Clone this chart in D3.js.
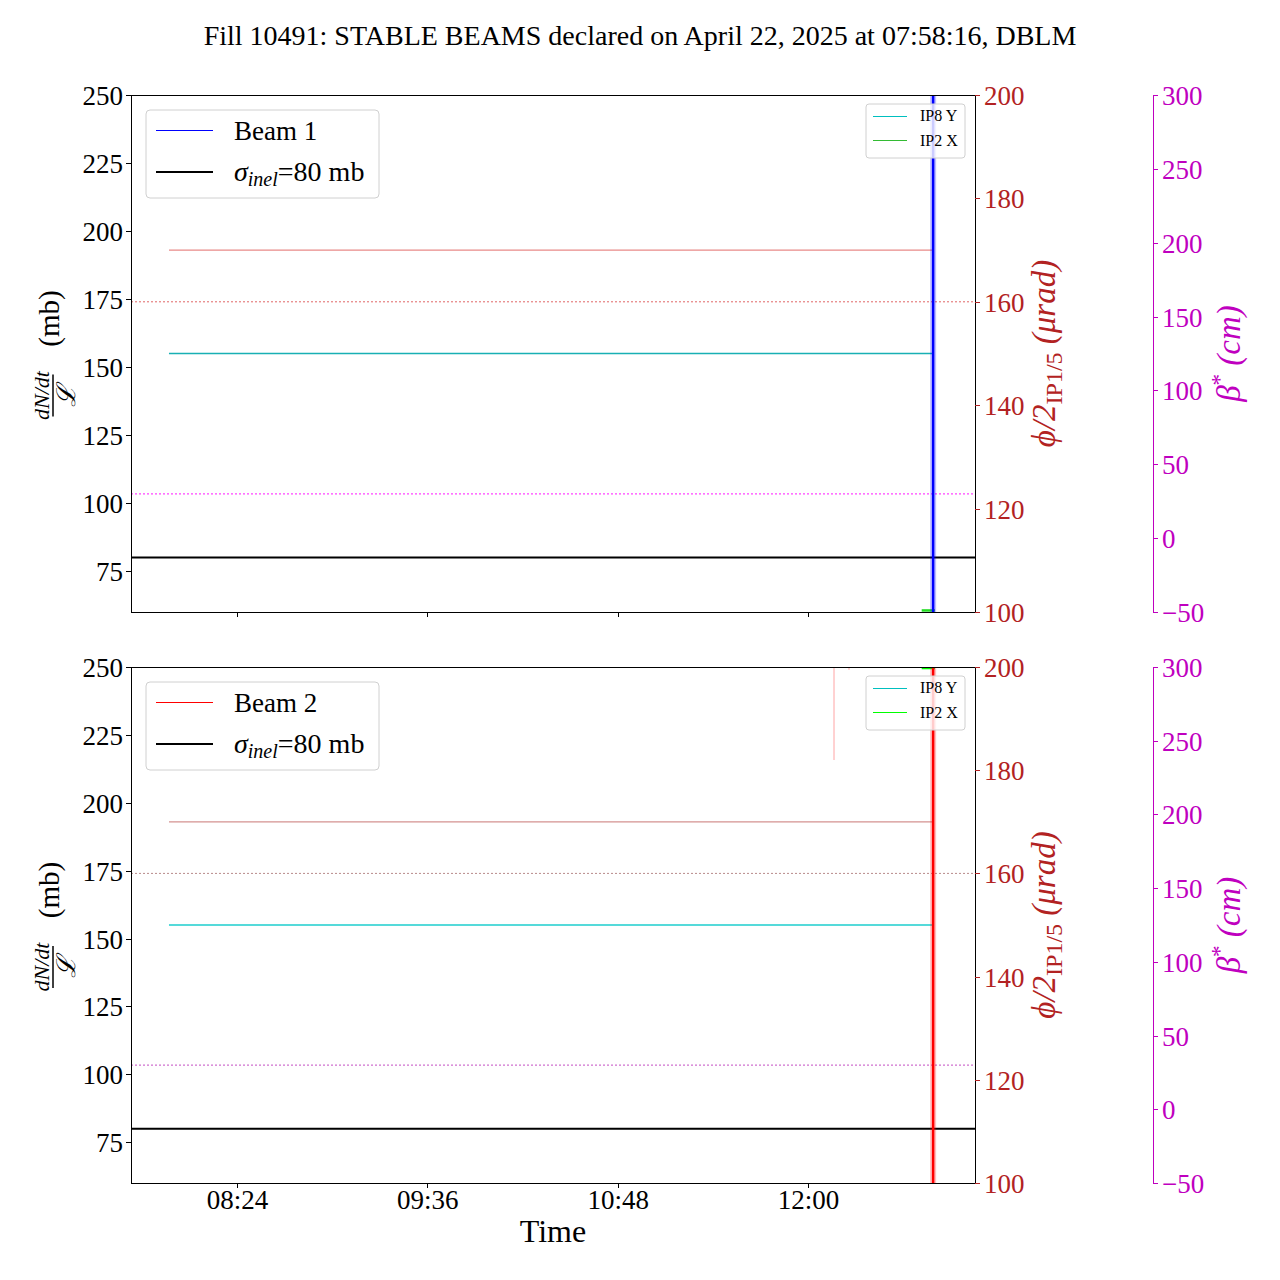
<!DOCTYPE html>
<html><head><meta charset="utf-8">
<script src="https://cdn.jsdelivr.net/npm/d3@7"></script>
<style>body{margin:0;background:#fff}svg{display:block}text{font-family:"Liberation Serif","DejaVu Serif",serif}.tick line{shape-rendering:crispEdges}</style>
</head><body>
<script>
// ---- data ----
const fillTitle = "Fill 10491: STABLE BEAMS declared on April 22, 2025 at 07:58:16, DBLM";
const day = "2025-04-22";
const xDomain = ["07:43:54", "13:03:10"];
const xTicks = ["08:24", "09:36", "10:48", "12:00"];
const leftTicks = [75, 100, 125, 150, 175, 200, 225, 250];
const redTicks = [100, 120, 140, 160, 180, 200];
const magTicks = [-50, 0, 50, 100, 150, 200, 250, 300];
const lineTimes = ["07:58:16", "12:47:20"];
const crossingIP15 = [170, 170];      // µrad, half crossing angle IP1/5
const crossingIP8Y = [150, 150];      // µrad
const refCrossing = 160;              // µrad reference (dotted)
const betaStarRef = 30;               // cm (dotted)
const sigmaInel = 80;                 // mb
const beam1Times = ["12:47:20", "12:47:20"];
const beam1Vals = [20, 400];          // mb, off-scale spike
const beam2Times = ["12:47:20", "12:47:20"];
const beam2Vals = [20, 400];
const beam2EarlyTimes = ["12:09:50", "12:09:50"];
const beam2EarlyVals = [400, 215.8];
const beam2BlipTimes = ["12:15:30", "12:15:30"];
const beam2BlipVals = [400, 249];
const ip2xTimes = ["12:43:00", "12:48:00"];
const ip2xTop = [100.3, 100.3];
const ip2xBottom = [199.8, 199.8];

const W = 1280, H = 1280;
const svg = d3.select("body").append("svg").attr("width", W).attr("height", H);
const parse = s => d3.timeParse("%Y-%m-%d %H:%M:%S")(day + " " + (s.length === 5 ? s + ":00" : s));
const x = d3.scaleTime().domain(xDomain.map(parse)).range([131, 975]);
const FS = 27;

svg.append("text").attr("x", 640).attr("y", 45).attr("text-anchor", "middle").attr("font-size", 28).text(fillTitle);

const RED = "#b22222", MAG = "#bf00bf";

const panels = [
  {y0: 95, y1: 612, beam: "Beam 1", beamColor: "#0000ff", spikeT: beam1Times, spikeV: beam1Vals,
   c170: "#e88a88", c160: "#e06666", cIP8: "#18b0b4", cMag: "#ff44ff", ip2: ip2xTop, ip2c: "#22dd22", legIP2: "#33bb33", last: false},
  {y0: 667, y1: 1183, beam: "Beam 2", beamColor: "#ff0000", spikeT: beam2Times, spikeV: beam2Vals,
   c170: "#d49290", c160: "#b88a8a", cIP8: "#55dada", cMag: "#d070d0", ip2: ip2xBottom, ip2c: "#00ff00", legIP2: "#00ff00", last: true}
];

panels.forEach((p, i) => {
  const yL = d3.scaleLinear().domain([60, 250]).range([p.y1, p.y0]);
  const yR = d3.scaleLinear().domain([100, 200]).range([p.y1, p.y0]);
  const yM = d3.scaleLinear().domain([-50, 300]).range([p.y1, p.y0]);
  const clipId = "clip" + i;
  svg.append("clipPath").attr("id", clipId).append("rect")
    .attr("x", 131).attr("y", p.y0).attr("width", 975 - 131).attr("height", p.y1 - p.y0);
  const g = svg.append("g").attr("clip-path", `url(#${clipId})`);
  const line = (ts, vs, sc) => d3.line().x((d, k) => x(parse(ts[k]))).y(d => sc(d))(vs);

  // reference dotted lines (full width)
  g.append("line").attr("x1", 131).attr("x2", 975).attr("y1", yR(refCrossing)).attr("y2", yR(refCrossing))
    .attr("stroke", p.c160).attr("stroke-width", 1).attr("stroke-dasharray", "2,2");
  g.append("line").attr("x1", 131).attr("x2", 975).attr("y1", yM(betaStarRef)).attr("y2", yM(betaStarRef))
    .attr("stroke", p.cMag).attr("stroke-width", 1.3).attr("stroke-dasharray", "2,2");
  // crossing angle lines
  g.append("path").attr("d", line(lineTimes, crossingIP15, yR)).attr("stroke", p.c170).attr("stroke-width", 1.3).attr("fill", "none");
  g.append("path").attr("d", line(lineTimes, crossingIP8Y, yR)).attr("stroke", p.cIP8).attr("stroke-width", p.last ? 1.8 : 1.5).attr("fill", "none");
  // sigma inel
  g.append("path").attr("d", line(lineTimes.map((t, k) => k ? xDomain[1] : xDomain[0]), [sigmaInel, sigmaInel], yL))
    .attr("stroke", "#000").attr("stroke-width", 2).attr("fill", "none");
  // early spikes bottom
  if (p.last) {
    g.append("path").attr("d", line(beam2EarlyTimes, beam2EarlyVals, yL)).attr("stroke", "#ff0000").attr("stroke-opacity", 0.3).attr("stroke-width", 1.2).attr("fill", "none");
    g.append("path").attr("d", line(beam2BlipTimes, beam2BlipVals, yL)).attr("stroke", "#ff0000").attr("stroke-opacity", 0.3).attr("stroke-width", 1.2).attr("fill", "none");
  }
  // IP2 X green
  g.append("path").attr("d", line(ip2xTimes, p.ip2, yR)).attr("stroke", p.ip2c).attr("stroke-width", 2.5).attr("fill", "none");
  // beam spike
  g.append("path").attr("d", line(p.spikeT, p.spikeV, yL)).attr("stroke", p.beamColor).attr("stroke-opacity", 0.25).attr("stroke-width", 6).attr("fill", "none");
  g.append("path").attr("d", line(p.spikeT, p.spikeV, yL)).attr("stroke", p.beamColor).attr("stroke-width", 2.5).attr("fill", "none");

  // frame
  svg.append("rect").attr("x", 131.5).attr("y", p.y0 + 0.5).attr("width", 975 - 131).attr("height", p.y1 - p.y0)
    .attr("fill", "none").attr("stroke", "#000").attr("stroke-width", 1).attr("shape-rendering", "crispEdges");

  // left axis
  const la = svg.append("g").attr("transform", "translate(131,0)")
    .call(d3.axisLeft(yL).tickValues(leftTicks).tickSize(5).tickPadding(3));
  la.select(".domain").remove();
  la.selectAll("text").attr("font-size", FS).attr("font-family", "Liberation Serif").attr("dy", "0.35em");
  // right red axis
  const ra = svg.append("g").attr("transform", "translate(975,0)")
    .call(d3.axisRight(yR).tickValues(redTicks).tickSize(5).tickPadding(4));
  ra.select(".domain").remove();
  ra.selectAll("line").attr("stroke", RED);
  ra.selectAll("text").attr("fill", RED).attr("font-size", FS).attr("font-family", "Liberation Serif").attr("dy", "0.35em");
  // magenta axis
  const ma = svg.append("g").attr("transform", "translate(1153,0)")
    .call(d3.axisRight(yM).tickValues(magTicks).tickSize(5).tickPadding(4).tickFormat(d => d < 0 ? "\u2212" + Math.abs(d) : d));
  ma.select(".domain").attr("stroke", MAG).attr("d", `M0.5,${p.y0}V${p.y1}`);
  ma.selectAll("line").attr("stroke", MAG);
  ma.selectAll("text").attr("fill", MAG).attr("font-size", FS).attr("font-family", "Liberation Serif").attr("dy", "0.35em");
  // x axis
  const xa = svg.append("g").attr("transform", `translate(0,${p.y1})`)
    .call(d3.axisBottom(x).tickValues(xTicks.map(parse)).tickSize(5).tickPadding(3).tickFormat(d3.timeFormat("%H:%M")));
  xa.select(".domain").remove();
  xa.selectAll("text").attr("font-size", FS).attr("font-family", "Liberation Serif").attr("dy", "0.65em");
  if (!p.last) xa.selectAll("text").remove();

  const cy = (p.y0 + p.y1) / 2;
  // left y label
  const gl = svg.append("g").attr("transform", `translate(52,${cy}) rotate(-90)`);
  gl.append("text").attr("x", 35).attr("y", 7).attr("text-anchor", "middle").attr("font-size", 29).text("(mb)");
  gl.append("text").attr("x", -42).attr("y", -3).attr("text-anchor", "middle").attr("font-size", 22).attr("font-style", "italic").text("dN/dt");
  gl.append("line").attr("x1", -63).attr("x2", -21).attr("y1", 1).attr("y2", 1).attr("stroke", "#000").attr("stroke-width", 1.5);
  gl.append("text").attr("x", -42).attr("y", 23).attr("text-anchor", "middle").attr("font-size", 26).attr("font-style", "italic").text("\u2112");
  // red label
  const gr = svg.append("g").attr("transform", `translate(1055,${cy}) rotate(-90)`);
  const tr = gr.append("text").attr("text-anchor", "middle").attr("font-size", 33).attr("fill", RED).attr("font-style", "italic");
  tr.append("tspan").text("\u03d5/2");
  tr.append("tspan").attr("font-style", "normal").attr("font-size", 24).attr("dy", 7).text("IP1/5");
  tr.append("tspan").attr("dy", -7).text(" (\u03bcrad)");
  // magenta label
  const gm = svg.append("g").attr("transform", `translate(1240,${cy}) rotate(-90)`);
  const tm = gm.append("text").attr("text-anchor", "middle").attr("font-size", 33).attr("fill", MAG).attr("font-style", "italic");
  tm.append("tspan").text("\u03b2");
  tm.append("tspan").attr("font-size", 23).attr("dy", -13).attr("font-style", "normal").text("*");
  tm.append("tspan").attr("dy", 13).text(" (cm)");

  // big legend
  const ly = p.y0;
  svg.append("rect").attr("x", 146).attr("y", ly + 15).attr("width", 233).attr("height", 88).attr("rx", 4)
    .attr("fill", "#fff").attr("fill-opacity", 0.8).attr("stroke", "#d0d0d0");
  svg.append("line").attr("x1", 156).attr("x2", 213).attr("y1", ly + 35.5).attr("y2", ly + 35.5).attr("stroke", p.beamColor).attr("stroke-width", 1);
  svg.append("text").attr("x", 234).attr("y", ly + 45).attr("font-size", 27).text(p.beam);
  svg.append("line").attr("x1", 156).attr("x2", 213).attr("y1", ly + 77).attr("y2", ly + 77).attr("stroke", "#000").attr("stroke-width", 2);
  const st = svg.append("text").attr("x", 234).attr("y", ly + 86).attr("font-size", 28);
  st.append("tspan").attr("font-style", "italic").text("\u03c3");
  st.append("tspan").attr("font-style", "italic").attr("font-size", 20).attr("dy", 5).text("inel");
  st.append("tspan").attr("dy", -5).text("=80 mb");

  // small legend
  svg.append("rect").attr("x", 866).attr("y", ly + 9).attr("width", 99).attr("height", 54).attr("rx", 3)
    .attr("fill", "#fff").attr("fill-opacity", 0.8).attr("stroke", "#d0d0d0");
  svg.append("line").attr("x1", 873).attr("x2", 907).attr("y1", ly + 21.5).attr("y2", ly + 21.5).attr("stroke", "#00bfbf").attr("stroke-width", 1);
  svg.append("text").attr("x", 920).attr("y", ly + 26).attr("font-size", 16).text("IP8 Y");
  svg.append("line").attr("x1", 873).attr("x2", 907).attr("y1", ly + 45.5).attr("y2", ly + 45.5).attr("stroke", p.legIP2).attr("stroke-width", 1);
  svg.append("text").attr("x", 920).attr("y", ly + 51).attr("font-size", 16).text("IP2 X");
});

svg.append("text").attr("x", 553).attr("y", 1242).attr("text-anchor", "middle").attr("font-size", 32).text("Time");
</script>
</body></html>
